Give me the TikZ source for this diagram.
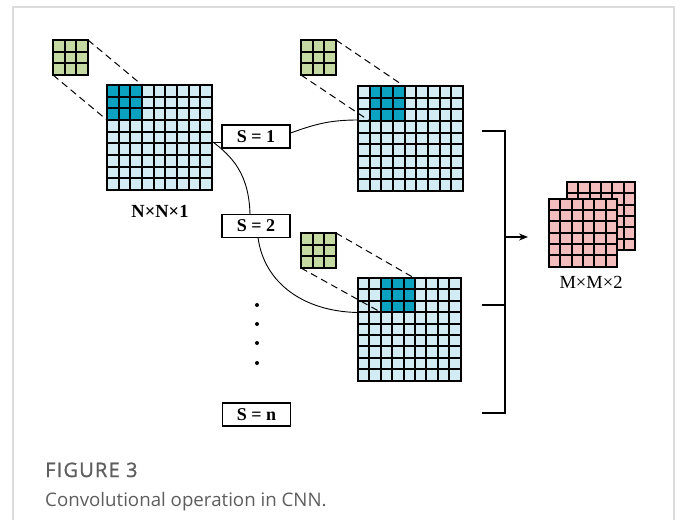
\documentclass[tikz,border=0pt]{standalone}
\usepackage{fontspec}
\setmainfont{Liberation Serif}
\newfontfamily\capfont{Open Sans}
\newfontfamily\capfonthead{Open Sans}[FakeBold=0.9, LetterSpace=6]
\usetikzlibrary{arrows.meta}

\definecolor{cellblue}{HTML}{D3ECF4}
\definecolor{patchblue}{HTML}{0AA2C0}
\definecolor{kgreen}{HTML}{C4DAA2}
\definecolor{opink}{HTML}{F4BDBD}
\definecolor{framegray}{HTML}{DCDCDC}
\definecolor{capgray}{HTML}{5E5E5E}

\tikzset{
  gridline/.style={line width=2pt, line cap=rect},
  sbox/.style={draw, line width=1.1pt, minimum width=68pt, minimum height=23pt,
    inner sep=0pt, font=\fontsize{18}{18}\selectfont\bfseries, fill=white},
  link/.style={line width=0.9pt},
  guide/.style={line width=1pt, dash pattern=on 7pt off 4.5pt},
  bracket/.style={line width=1.1pt},
}

% #1,#2: top-left corner, #3: cells per side, #4: cell size, #5: fill
\newcommand\cellgrid[5]{%
  \begin{scope}[shift={(#1,#2)}]
    \fill[#5] (0,0) rectangle ({#3*#4},{#3*#4});
    \foreach \i in {0,...,#3}{
      \draw[gridline] ({\i*#4},0) -- ({\i*#4},{#3*#4});
      \draw[gridline] (0,{\i*#4}) -- ({#3*#4},{\i*#4});
    }
  \end{scope}}
% 3x3 highlighted patch: #1,#2 grid corner, #3 column offset, #4 cell size
\newcommand\patch[4]{%
  \begin{scope}[shift={(#1,#2)}]
    \fill[patchblue] ({#3*#4},0) rectangle ({(#3+3)*#4},{3*#4});
    \foreach \i in {0,...,3}{
      \draw[gridline] ({(#3+\i)*#4},0) -- ({(#3+\i)*#4},{3*#4});
      \draw[gridline] ({#3*#4},{\i*#4}) -- ({(#3+3)*#4},{\i*#4});
    }
  \end{scope}}

\begin{document}
\begin{tikzpicture}[x=1pt,y=-1pt]
  \useasboundingbox (0,0) rectangle (682,520);
  \fill[white] (0,0) rectangle (682,520);
  % card frame
  \draw[framegray, line width=1.6pt] (13,520) -- (13,7) -- (674,7) -- (674,520);

  % input map and its kernel
  \cellgrid{107}{85}{9}{11.67}{cellblue}
  \patch{107}{85}{0}{11.67}
  \cellgrid{53}{40}{3}{11.67}{kgreen}
  \draw[guide] (88,40) -- (142,85);
  \draw[guide] (53,75) -- (107,120);
  \node[font=\fontsize{18.5}{18.5}\selectfont\bfseries] (lin) at (160,211) {N×N×1};

  % stride 1
  \cellgrid{358}{86}{9}{11.67}{cellblue}
  \patch{358}{86}{1}{11.67}
  \cellgrid{301}{40}{3}{11.67}{kgreen}
  \draw[guide] (336,40) -- (404,86);
  \draw[guide] (301,75) -- (369.7,121);

  % stride 2
  \cellgrid{358}{278}{9}{11.4}{cellblue}
  \patch{358}{278}{2}{11.4}
  \cellgrid{301}{233}{3}{11.67}{kgreen}
  \draw[guide] (336,233) -- (414.2,278);
  \draw[guide] (301,268) -- (380.8,312.2);

  % stride boxes
  \node[sbox] (s1) at (256,136.5) {S = 1};
  \node[sbox] (s2) at (256,226) {S = 2};
  \node[sbox] (sn) at (256.5,414.5) {S = n};

  \coordinate (g1e) at (213,142);
  \coordinate (g2in) at (358,120);
  \coordinate (g3in) at (358,312.5);
  \coordinate (s2top) at (250,214.5);
  \coordinate (s2bot) at (258,237.5);

  \draw[link] (g1e) -- (s1.west |- g1e);
  \draw[link] (g1e) .. controls +(18,14) and +(-1,-42) .. (s2top);
  \draw[link] (s1.east |- 0,133) .. controls +(25,-9) and +(-28,0) .. (g2in);
  \draw[link] (s2bot) .. controls +(6,45) and +(-55,-1) .. (g3in);

  % ellipsis between strides
  \foreach \yy in {305,324,343,363}
    \fill (257,\yy) circle (2);

  % merge bracket and output arrow
  \coordinate (bt) at (505,131);
  \coordinate (bb) at (505,413);
  \coordinate (bm) at (505,237);
  \coordinate (out) at (528,237);
  \draw[bracket] (482,131) -- (bt) -- (bb) -- (482,413);
  \draw[bracket] (482,305) -- (505,305);
  \draw[bracket, -{Stealth[length=9pt,width=7pt]}] (bm) -- (out);

  % two output feature maps
  \cellgrid{567}{182}{6}{11.35}{opink}
  \cellgrid{549}{198.5}{6}{11.35}{opink}
  \node[font=\fontsize{18.5}{18.5}\selectfont] (lout) at (591,282) {M×M×2};

  % caption
  \node[anchor=base west, inner sep=0pt, text=capgray, font=\capfonthead\fontsize{20}{20}\selectfont] (fig) at (45,477) {FIGURE 3};
  \node[anchor=base west, inner sep=0pt, text=capgray, font=\capfont\fontsize{18.7}{18.7}\selectfont] (cap) at (45,506) {Convolutional operation in CNN.};
\end{tikzpicture}
\end{document}
